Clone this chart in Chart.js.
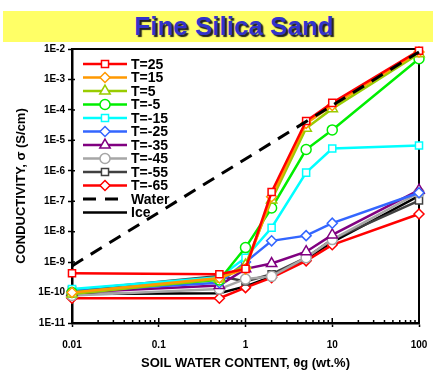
<!DOCTYPE html>
<html>
<head>
<meta charset="utf-8">
<script src="https://cdn.jsdelivr.net/npm/chart.js@4"></script>
<style>
  html, body { margin: 0; padding: 0; background: #fff; }
  #wrap { position: relative; width: 433px; height: 375px; overflow: hidden; }
  #banner {
    position: absolute; left: 3px; top: 11px; width: 430px; height: 31px;
    background: #FFFF66; text-align: center;
    font: bold 26px "Liberation Sans", Arial, sans-serif; line-height: 31px;
    color: #3333CC; text-shadow: 2px 2px 1px #222;
  }
  #banner span { position: relative; left: 16px; }
  canvas { position: absolute; left: 0; top: 0; }
</style>
</head>
<body>
<div id="wrap">
  <canvas id="myChart" width="433" height="375"></canvas>
  <div id="banner"><span>Fine Silica Sand</span></div>
</div>
<script>
// water content (wt.%)
const waterContent = [0.01, 0.5, 1, 2, 5, 10, 100];

// conductivity (S/cm) per temperature
const t25  = [4.3e-10, 4e-10,   6e-10,   2e-7,    4.3e-5,  1.7e-4,  8.8e-3];
const t15  = [1e-10,   3e-10,   6e-10,   1.4e-7,  3.6e-5,  1.4e-4,  8e-3];
const t5   = [9e-11,   2.8e-10, 8e-10,   1.1e-7,  2.5e-5,  1.1e-4,  7e-3];
const tm5  = [1e-10,   2.6e-10, 3e-9,    6e-8,    5e-6,    2.2e-5,  4.8e-3];
const tm15 = [1.3e-10, 3.2e-10, 1.4e-9,  1.35e-8, 8.7e-7,  5.4e-6,  6.8e-6];
const tm25 = [1.1e-10, 2.1e-10, 1e-9,    5e-9,    7.4e-9,  1.9e-8,  1.9e-7];
const tm35 = [1e-10,   1.7e-10, 6e-10,   9e-10,   2.2e-9,  7.8e-9,  2.3e-7];
const tm45 = [8e-11,   1.3e-10, 2.8e-10, 3.4e-10, 1.4e-9,  5.5e-9,  1.9e-7];
const tm55 = [1.2e-10, 3.5e-10, 2.3e-10, 4e-10,   1.4e-9,  5.6e-9,  1.05e-7];
const tm65 = [6.5e-11, 6.5e-11, 1.45e-10,3.1e-10, 1.1e-9,  3.7e-9,  3.8e-8];
const ice  = [9e-11,   9.5e-11, 1.6e-10, 3.3e-10, 1.3e-9,  4.5e-9,  1.5e-7];

// reference line for water
const waterX = [0.01, 100];
const waterY = [7.5e-10, 8e-3];

const xTicks = [0.01, 0.1, 1, 10, 100];
const xTickLabels = ['0.01', '0.1', '1', '10', '100'];
const yTicks = [1e-11, 1e-10, 1e-9, 1e-8, 1e-7, 1e-6, 1e-5, 1e-4, 1e-3, 1e-2];
const yTickLabels = ['1E-11', '1E-10', '1E-9', '1E-8', '1E-7', '1E-6', '1E-5', '1E-4', '1E-3', '1E-2'];

const FONT = '"Liberation Sans", Arial, sans-serif';

function pts(ys, xs) {
    xs = xs || waterContent;
    return ys.map((y, i) => ({x: xs[i], y: y}));
}

function series(label, ys, color, style) {
    return {
        label: label,
        data: pts(ys),
        borderColor: color,
        backgroundColor: '#fff',
        pointBackgroundColor: '#fff',
        pointBorderColor: color,
        pointStyle: style,
        pointRadius: style === 'triangle' ? 6 : 5,
        pointBorderWidth: 1.5,
        borderWidth: 2.5,
        tension: 0,
        clip: false
    };
}

const datasets = [
    series('T=25', t25, '#FF0000', 'rect'),
    series('T=15', t15, '#FF9900', 'rectRot'),
    series('T=5', t5, '#99CC00', 'triangle'),
    series('T=-5', tm5, '#00EE00', 'circle'),
    series('T=-15', tm15, '#00FFFF', 'rect'),
    series('T=-25', tm25, '#3366FF', 'rectRot'),
    series('T=-35', tm35, '#800080', 'triangle'),
    series('T=-45', tm45, '#A6A6A6', 'circle'),
    series('T=-55', tm55, '#404040', 'rect'),
    series('T=-65', tm65, '#FF0000', 'rectRot'),
    {
        label: 'Water', data: pts(waterY, waterX), borderColor: '#000', borderWidth: 3,
        borderDash: [13, 9], pointRadius: 0, clip: false, order: -1
    },
    {
        label: 'Ice', data: pts(ice), borderColor: '#000', borderWidth: 2.5,
        pointRadius: 0, clip: false, order: 5
    }
];

// legend drawn as line + marker samples inside the plot
const lineLegend = {
    id: 'lineLegend',
    afterDraw(chart) {
        const ctx = chart.ctx;
        const x0 = 83, x1 = 127, y0 = 64, dy = 13.5;
        ctx.save();
        chart.data.datasets.forEach((ds, i) => {
            const y = y0 + i * dy;
            ctx.beginPath();
            ctx.strokeStyle = ds.borderColor;
            ctx.lineWidth = ds.borderWidth;
            ctx.setLineDash(ds.borderDash || []);
            ctx.moveTo(x0, y);
            ctx.lineTo(x1, y);
            ctx.stroke();
            ctx.setLineDash([]);
            if (ds.pointRadius) {
                ctx.fillStyle = '#fff';
                ctx.lineWidth = 1.5;
                Chart.helpers.drawPoint(ctx, {pointStyle: ds.pointStyle, radius: ds.pointRadius, borderWidth: 1.5, rotation: 0}, (x0 + x1) / 2, y);
            }
            ctx.fillStyle = '#000';
            ctx.font = 'bold 14px ' + FONT;
            ctx.textBaseline = 'middle';
            ctx.textAlign = 'left';
            ctx.fillText(ds.label, 131, y + 1);
        });
        ctx.restore();
    }
};

// frame on top/right and minor ticks on the log x axis
const frame = {
    id: 'frame',
    beforeDatasetsDraw(chart) {
        const {ctx, chartArea: a, scales: {x, y}} = chart;
        ctx.save();
        ctx.strokeStyle = '#000';
        ctx.lineWidth = 2;
        ctx.beginPath();
        ctx.moveTo(a.left, a.top);
        ctx.lineTo(a.right, a.top);
        ctx.lineTo(a.right, a.bottom);
        ctx.stroke();
        ctx.lineWidth = 1.5;
        ctx.beginPath();
        for (let d = -2; d < 2; d++) {
            for (let m = 2; m <= 9; m++) {
                const px = x.getPixelForValue(m * Math.pow(10, d));
                ctx.moveTo(px, a.bottom);
                ctx.lineTo(px, a.bottom - 3);
            }
        }
        xTicks.forEach(v => {
            const px = x.getPixelForValue(v);
            ctx.moveTo(px, a.bottom);
            ctx.lineTo(px, a.bottom - 5);
        });
        yTicks.forEach(v => {
            const py = y.getPixelForValue(v);
            ctx.moveTo(a.left, py);
            ctx.lineTo(a.left + 3, py);
        });
        ctx.stroke();
        ctx.restore();
    }
};

const ctx = document.getElementById('myChart').getContext('2d');
const myChart = new Chart(ctx, {
    type: 'line',
    data: { datasets: datasets },
    options: {
        responsive: false,
        animation: false,
        layout: { padding: { top: 49, right: 14, left: 0, bottom: 0 } },
        plugins: { legend: { display: false }, tooltip: { enabled: false } },
        scales: {
            x: {
                type: 'logarithmic',
                min: 0.01,
                max: 100,
                afterBuildTicks: s => { s.ticks = xTicks.map(v => ({value: v})); },
                afterFit: s => { s.height = 52; s.paddingLeft = 0; s.paddingRight = 0; },
                ticks: {
                    color: '#000',
                    font: { family: FONT, size: 10, weight: 'bold' },
                    padding: 12,
                    maxRotation: 0,
                    autoSkip: false,
                    callback: (v) => xTickLabels[xTicks.indexOf(v)]
                },
                grid: { drawOnChartArea: false, color: '#000', tickLength: 4, tickWidth: 1.5 },
                border: { color: '#000', width: 2.5 },
                title: {
                    display: true,
                    text: 'SOIL WATER CONTENT, \u03b8g (wt.%)',
                    color: '#000',
                    font: { family: FONT, size: 13, weight: 'bold' },
                    padding: { top: 2 }
                }
            },
            y: {
                type: 'logarithmic',
                min: 1e-11,
                max: 1e-2,
                afterBuildTicks: s => { s.ticks = yTicks.map(v => ({value: v})); },
                afterFit: s => { s.width = 72; s.paddingTop = 0; s.paddingBottom = 0; },
                ticks: {
                    color: '#000',
                    font: { family: FONT, size: 10, weight: 'bold' },
                    padding: 3,
                    autoSkip: false,
                    callback: (v) => yTickLabels[yTicks.indexOf(v)]
                },
                grid: { drawOnChartArea: false, color: '#000', tickLength: 4, tickWidth: 1.5 },
                border: { color: '#000', width: 2.5 },
                title: {
                    display: true,
                    text: 'CONDUCTIVITY, \u03c3 (S/cm)',
                    color: '#000',
                    font: { family: FONT, size: 13, weight: 'bold' },
                    padding: { top: 14, bottom: 0 }
                }
            }
        }
    },
    plugins: [frame, lineLegend]
});
</script>
</body>
</html>
